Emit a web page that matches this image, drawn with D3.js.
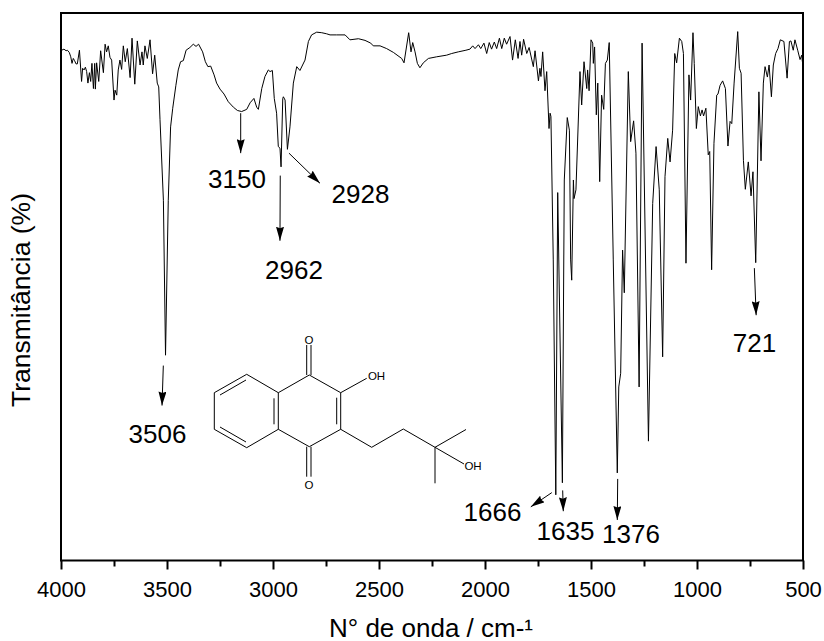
<!DOCTYPE html>
<html>
<head>
<meta charset="utf-8">
<script src="https://cdn.jsdelivr.net/npm/d3@7"></script>
<style>
    html, body { margin: 0; padding: 0; background: white; }
    text { font-family: "Liberation Sans", Arial, sans-serif; fill: black; }
</style>
</head>
<body>
<svg id="chart" width="824" height="641"></svg>
<script>
/************************************************************/
/**
    Data
*/

const wavenumbers = [
    3997, 3986, 3976, 3970, 3961, 3954, 3948, 3942, 3936, 3929, 3923, 3913, 3903, 3898, 3891, 3885,
    3879, 3873, 3866, 3860, 3854, 3847, 3841, 3838, 3832, 3822, 3813, 3800, 3792, 3785, 3777, 3769,
    3761, 3750, 3745, 3737, 3730, 3722, 3714, 3706, 3697, 3687, 3674, 3665, 3652, 3640, 3627, 3618,
    3612, 3604, 3593, 3580, 3568, 3558, 3546, 3539, 3533, 3517, 3507, 3494, 3483, 3473, 3458, 3447,
    3436, 3423, 3410, 3392, 3376, 3363, 3351, 3332, 3319, 3307, 3294, 3278, 3266, 3250, 3231, 3211,
    3187, 3168, 3148, 3124, 3108, 3090, 3077, 3069, 3053, 3038, 3022, 3014, 3003, 2994, 2983, 2975,
    2967, 2962, 2954, 2951, 2943, 2932, 2920, 2904, 2888, 2873, 2849, 2833, 2818, 2794, 2770, 2747,
    2731, 2700, 2660, 2637, 2597, 2566, 2539, 2527, 2495, 2464, 2432, 2393, 2382, 2360, 2349, 2341,
    2330, 2319, 2307, 2291, 2267, 2228, 2181, 2157, 2126, 2090, 2071, 2058, 2047, 2031, 2020, 2005,
    1992, 1980, 1969, 1956, 1945, 1932, 1921, 1909, 1898, 1882, 1870, 1857, 1844, 1835, 1827, 1818,
    1803, 1792, 1772, 1764, 1748, 1741, 1736, 1728, 1717, 1709, 1698, 1693, 1689, 1678, 1666, 1657,
    1635, 1626, 1612, 1602, 1596, 1591, 1583, 1580, 1571, 1552, 1544, 1533, 1520, 1516, 1509, 1500,
    1492, 1489, 1483, 1475, 1468, 1459, 1450, 1440, 1432, 1423, 1414, 1395, 1376, 1369, 1360, 1351,
    1343, 1324, 1313, 1299, 1288, 1273, 1259, 1229, 1209, 1193, 1178, 1162, 1151, 1138, 1127, 1115,
    1105, 1096, 1083, 1072, 1064, 1052, 1038, 1030, 1019, 1013, 1003, 994, 984, 976, 969, 958,
    947, 940, 931, 920, 907, 901, 891, 879, 866, 854, 844, 836, 825, 808, 800, 792,
    781, 772, 758, 745, 736, 723, 708, 698, 687, 679, 668, 660, 649, 640, 629, 618,
    607, 590, 575, 564, 557, 546, 538, 525, 514, 506, 503
];

const transmittance = [
    93.2, 93.4, 93.1, 93.2, 92.8, 92.0, 90.8, 91.7, 91.3, 90.7, 90.7, 93.2, 87.5, 89.9, 89.6, 90.1,
    89.3, 87.2, 89.1, 87.5, 90.8, 86.2, 90.8, 86.1, 90.9, 87.5, 93.1, 89.1, 94.3, 92.9, 94.0, 91.9,
    91.4, 84.1, 85.9, 85.0, 89.6, 91.4, 89.7, 94.0, 91.1, 93.5, 88.2, 95.4, 87.0, 94.9, 90.5, 92.9,
    90.5, 94.0, 91.7, 95.1, 88.9, 92.3, 87.2, 86.5, 80.5, 65.8, 37.5, 65.8, 79.2, 82.6, 86.8, 89.6,
    91.1, 91.3, 93.2, 93.7, 94.3, 93.9, 94.3, 92.9, 91.1, 90.2, 90.3, 88.7, 87.2, 86.1, 85.2, 83.8,
    82.8, 82.2, 82.0, 82.4, 83.6, 84.4, 82.8, 82.4, 86.2, 88.4, 89.6, 89.3, 89.5, 84.4, 81.7, 75.6,
    75.3, 71.9, 84.4, 84.7, 84.1, 75.1, 79.2, 87.2, 90.2, 89.5, 91.4, 94.8, 96.0, 96.5, 96.4, 96.2,
    96.0, 96.0, 96.0, 95.1, 95.3, 95.0, 94.5, 94.0, 94.0, 93.5, 92.8, 91.7, 90.9, 96.4, 92.9, 94.6,
    92.9, 90.8, 90.0, 90.9, 91.7, 92.0, 92.3, 92.6, 92.9, 93.2, 93.4, 94.0, 93.5, 94.2, 93.5, 94.5,
    92.6, 94.6, 93.4, 94.7, 93.5, 95.4, 93.5, 95.4, 94.3, 95.7, 91.4, 95.1, 91.7, 94.8, 92.3, 95.2,
    92.6, 93.7, 90.2, 93.1, 87.6, 89.9, 88.4, 92.9, 85.8, 89.3, 78.9, 81.7, 81.1, 54.9, 12.0, 67.2,
    14.2, 69.5, 80.9, 78.6, 54.9, 51.2, 69.5, 66.1, 67.7, 89.3, 83.2, 91.1, 86.2, 89.6, 85.8, 95.1,
    94.5, 90.8, 93.8, 81.4, 87.2, 69.2, 85.0, 82.4, 90.8, 91.4, 94.6, 54.9, 16.0, 31.7, 34.2, 56.7,
    48.9, 89.3, 76.5, 80.3, 74.4, 31.7, 94.5, 21.8, 65.2, 75.6, 67.7, 37.2, 70.1, 77.1, 72.8, 78.6,
    92.6, 90.9, 95.4, 94.8, 92.6, 54.3, 88.7, 84.1, 96.4, 90.8, 78.9, 82.9, 81.2, 82.3, 81.2, 82.6,
    74.1, 74.7, 53.1, 76.2, 85.0, 85.2, 86.8, 87.6, 86.2, 75.7, 80.2, 79.8, 87.2, 96.6, 89.9, 89.0,
    73.1, 67.8, 72.8, 66.6, 71.0, 54.4, 85.6, 73.0, 87.2, 90.2, 88.3, 90.5, 84.7, 90.5, 92.6, 93.5,
    95.1, 94.8, 88.1, 94.8, 94.9, 93.2, 95.1, 93.2, 91.5, 92.3, 91.1
];

const major_ticks = [4000, 3500, 3000, 2500, 2000, 1500, 1000, 500];
const minor_ticks = [3750, 3250, 2750, 2250, 1750, 1250, 750];

const peak_labels = [3506, 3150, 2962, 2928, 1666, 1635, 1376, 721];
const peak_percent_start = [35.6, 81.7, 70.3, 74.4, 12.4, 12.8, 14.9, 53.4];
const peak_percent_end = [28.3, 74.4, 58.4, 68.9, 9.8, 9.0, 7.4, 44.8];

const x_title = 'N° de onda / cm-¹';
const y_title = 'Transmitância (%)';

/************************************************************/
/**
    Frame and scales
*/

const svg = d3.select('#chart');
const left = 61, right = 803, top_y = 13, bottom = 560.5;

const x = d3.scaleLinear().domain([4000, 500]).range([left, right]);
const y = d3.scaleLinear().domain([0, 100]).range([bottom, top_y]);

// x offsets of the arrow ends from their peak, the arrows are hand placed in the original
const arrow_dx = [[-2.4, -3.7], [-0.5, -0.5], [-0.8, -1.1], [0.7, 31.7], [-4, -25], [0.3, 0.9], [0.4, 0], [-1.8, 0]];
// where the number of each peak sits, [x centre, baseline]
const label_pos = [[157.5, 443], [237, 188], [294, 279], [360.5, 203], [492.5, 521], [565.5, 540], [631, 543], [754.5, 352]];

const defs = svg.append('defs');
defs.append('marker').attr('id', 'head')
    .attr('viewBox', '0 0 14 8').attr('refX', 14).attr('refY', 4)
    .attr('markerUnits', 'userSpaceOnUse').attr('markerWidth', 14).attr('markerHeight', 8).attr('orient', 'auto')
    .append('path').attr('d', 'M0,0 L14,4 L0,8 L1.5,4 Z').attr('fill', 'black');

/************************************************************/
/**
    Spectrum
*/

const points = wavenumbers.map((w, i) => [w, transmittance[i]]);
const line = d3.line().x(d => x(d[0])).y(d => y(d[1]));

svg.append('path').datum(points)
    .attr('d', line)
    .attr('fill', 'none').attr('stroke', 'black').attr('stroke-width', 1).attr('stroke-linejoin', 'round');

/************************************************************/
/**
    Axes
*/

svg.append('rect')
    .attr('x', left).attr('y', top_y).attr('width', right - left).attr('height', bottom - top_y)
    .attr('fill', 'none').attr('stroke', 'black').attr('stroke-width', 2);

const x_axis = d3.axisBottom(x).tickValues(major_ticks).tickSize(9).tickPadding(12).tickFormat(d3.format('d'));
const g_x = svg.append('g').attr('transform', `translate(0,${bottom})`).call(x_axis);
g_x.select('.domain').remove();
g_x.selectAll('line').attr('stroke', 'black').attr('stroke-width', 2);
g_x.selectAll('text').attr('font-size', 22).attr('font-family', '"Liberation Sans", Arial, sans-serif');

const g_minor = svg.append('g').attr('transform', `translate(0,${bottom})`)
    .call(d3.axisBottom(x).tickValues(minor_ticks).tickSize(6).tickFormat(''));
g_minor.select('.domain').remove();
g_minor.selectAll('line').attr('stroke', 'black').attr('stroke-width', 2);

svg.append('text').text(x_title)
    .attr('x', 431).attr('y', 637).attr('text-anchor', 'middle').attr('font-size', 26);

svg.append('text').text(y_title)
    .attr('transform', 'translate(30,300) rotate(-90)').attr('text-anchor', 'middle').attr('font-size', 26.5);

/************************************************************/
/**
    Peak arrows and numbers
*/

peak_labels.forEach((p, i) => {
    svg.append('line')
        .attr('x1', x(p) + arrow_dx[i][0]).attr('y1', y(peak_percent_start[i]))
        .attr('x2', x(p) + arrow_dx[i][1]).attr('y2', y(peak_percent_end[i]))
        .attr('stroke', 'black').attr('stroke-width', 1)
        .attr('marker-end', 'url(#head)');
    svg.append('text').text(p)
        .attr('x', label_pos[i][0]).attr('y', label_pos[i][1])
        .attr('text-anchor', 'middle').attr('font-size', 26);
});

/************************************************************/
/**
    Structure of the molecule, just a drawing on top of the chart
*/

const bonds = [
    [246.7, 374.3, 278.3, 392.7], [278.3, 392.7, 278.3, 429.3], [278.3, 429.3, 246.7, 447.7],
    [246.7, 447.7, 214.3, 429.3], [214.3, 429.3, 214.3, 392.7], [214.3, 392.7, 246.7, 374.3],
    [220, 395, 246, 380], [220, 427, 246, 442], [274, 398.3, 274, 424.3],
    [278.3, 392.7, 309.3, 375], [309.3, 375, 340.7, 392.7], [340.7, 392.7, 340.7, 429.3],
    [340.7, 429.3, 309.3, 446.7], [309.3, 446.7, 278.3, 429.3], [336.7, 397.7, 336.7, 424.3],
    [306.7, 375, 306.7, 345], [311, 375, 311, 345], [306.7, 446.7, 306.7, 476.7], [311, 446.7, 311, 476.7],
    [340.7, 392.7, 366.7, 378.3], [340.7, 429.3, 371.7, 447.3], [371.7, 447.3, 403.3, 429],
    [403.3, 429, 435, 447.3], [435, 447.3, 435, 483.3], [435, 447.3, 466, 429.5], [435, 447.3, 464, 464]
];

svg.append('g').selectAll('line').data(bonds).join('line')
    .attr('x1', d => d[0]).attr('y1', d => d[1]).attr('x2', d => d[2]).attr('y2', d => d[3])
    .attr('stroke', 'black').attr('stroke-width', 1);

const atoms = [['O', 309, 343.5], ['O', 309, 488.5], ['OH', 376.5, 379.5], ['OH', 473, 469.5]];

svg.append('g').selectAll('text').data(atoms).join('text')
    .text(d => d[0]).attr('x', d => d[1]).attr('y', d => d[2])
    .attr('text-anchor', 'middle').attr('font-size', 11.5);
</script>
</body>
</html>
